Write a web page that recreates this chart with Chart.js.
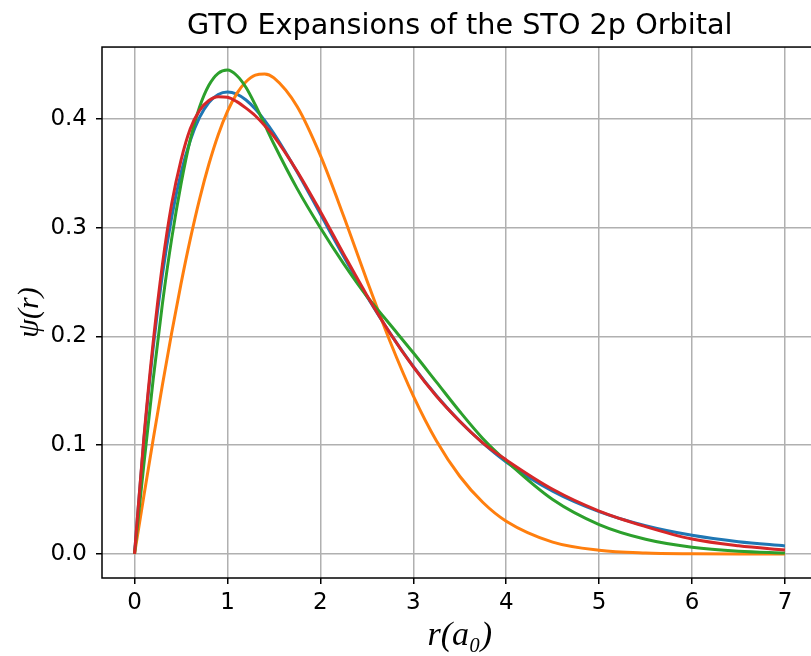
<!DOCTYPE html>
<html>
<head>
<meta charset="utf-8">
<script src="https://cdn.jsdelivr.net/npm/chart.js@4.4.1/dist/chart.umd.min.js"></script>
<style>
    html, body { margin: 0; padding: 0; width: 811px; height: 656px; overflow: hidden; background: #fff; }
    #wrap { width: 830px; height: 656px; }
</style>
</head>
<body>
<div id="wrap"><canvas id="gtoChart"></canvas></div>
<script>
// radial grid (bohr)
const R = [0, 0.1, 0.2, 0.3, 0.4, 0.5, 0.6, 0.7, 0.8, 0.9, 1.0, 1.1, 1.2, 1.3, 1.4, 1.5,
    1.75, 2.0, 2.25, 2.5, 2.75, 3.0, 3.25, 3.5, 3.75, 4.0, 4.5, 5.0, 5.5, 6.0, 6.5, 7.0];

const STO = [0, 0.1045, 0.1891, 0.2567, 0.3097, 0.3503, 0.3803, 0.4015, 0.4152, 0.4226, 0.4249,
    0.4229, 0.4175, 0.4092, 0.3987, 0.3866, 0.3513, 0.3126, 0.2739, 0.2370, 0.2031, 0.1725,
    0.1455, 0.1221, 0.1019, 0.0846, 0.0577, 0.0389, 0.0260, 0.0172, 0.0113, 0.0074];

const STO_1G = [0, 0.0530, 0.1051, 0.1555, 0.2035, 0.2484, 0.2895, 0.3264, 0.3584, 0.3854, 0.4070,
    0.4234, 0.4343, 0.4404, 0.4414, 0.4378, 0.4115, 0.3665, 0.3108, 0.2518, 0.1954, 0.1454,
    0.1039, 0.0715, 0.0473, 0.0301, 0.0109, 0.0034, 0.0009, 0.0002, 0.0000, 0.0000];

const STO_2G = [0, 0.082, 0.160, 0.230, 0.290, 0.340, 0.381, 0.411, 0.431, 0.442, 0.445,
    0.440, 0.429, 0.413, 0.395, 0.377, 0.336, 0.300, 0.267, 0.237, 0.211, 0.185,
    0.158, 0.131, 0.106, 0.0855, 0.050, 0.027, 0.0135, 0.0062, 0.0026, 0.0010];

const STO_3G = [0, 0.106, 0.194, 0.266, 0.322, 0.362, 0.391, 0.408, 0.417, 0.4205, 0.420,
    0.416, 0.410, 0.403, 0.394, 0.384, 0.352, 0.315, 0.276, 0.238, 0.203, 0.172,
    0.145, 0.122, 0.102, 0.0865, 0.0595, 0.0395, 0.0252, 0.0137, 0.0075, 0.0037];

const SERIES = [
    { label: 'STO', values: STO, color: '#1f77b4' },
    { label: 'STO-1G', values: STO_1G, color: '#ff7f0e' },
    { label: 'STO-2G', values: STO_2G, color: '#2ca02c' },
    { label: 'STO-3G', values: STO_3G, color: '#d62728' }
];

const X_MIN = -0.35, X_MAX = 7.35;
const Y_MIN = -0.0221, Y_MAX = 0.4662;

// black frame around the plot area, like matplotlib spines
const spinesPlugin = {
    id: 'spines',
    afterDraw(chart) {
        const { ctx, chartArea: a } = chart;
        ctx.save();
        ctx.strokeStyle = '#000';
        ctx.lineWidth = 1.5;
        ctx.strokeRect(a.left, a.top, a.right - a.left, a.bottom - a.top);
        ctx.restore();
    }
};

const datasets = SERIES.map((s, i) => ({
    label: s.label,
    data: R.map((r, j) => ({ x: r, y: s.values[j] })),
    borderColor: s.color,
    backgroundColor: s.color,
    borderWidth: 3,
    pointRadius: 0,
    fill: false,
    cubicInterpolationMode: 'monotone',
    order: SERIES.length - 1 - i
}));

new Chart(document.getElementById('gtoChart'), {
    type: 'line',
    data: { datasets },
    options: {
        responsive: true,
        maintainAspectRatio: false,
        animation: false,
        layout: { padding: { left: 0, right: 12.5, top: 0, bottom: 0 } },
        plugins: {
            legend: { display: false },
            tooltip: { enabled: false },
            title: {
                display: true,
                fullSize: false,
                text: 'GTO Expansions of the STO 2p Orbital',
                color: '#000',
                font: { family: 'DejaVu Sans', size: 28.7, weight: 'normal' },
                padding: { top: 9.5, bottom: 3.1 }
            }
        },
        scales: {
            x: {
                type: 'linear',
                min: X_MIN,
                max: X_MAX,
                afterFit(scale) { scale.height = 78; },
                grid: { color: '#b0b0b0', lineWidth: 1.5, tickColor: '#000', tickLength: 6 },
                border: { display: false },
                ticks: {
                    stepSize: 1,
                    includeBounds: false,
                    color: '#000',
                    padding: 5,
                    maxRotation: 0,
                    font: { family: 'DejaVu Sans', size: 23 },
                    callback: v => v.toFixed(0)
                },
                title: {
                    display: true,
                    text: 'r(a₀)',
                    color: '#000',
                    font: { family: 'Liberation Serif', size: 34, style: 'italic' },
                    padding: { top: 0, bottom: 0 }
                }
            },
            y: {
                min: Y_MIN,
                max: Y_MAX,
                afterFit(scale) { scale.width = 102; },
                grid: { color: '#b0b0b0', lineWidth: 1.5, tickColor: '#000', tickLength: 6 },
                border: { display: false },
                ticks: {
                    stepSize: 0.1,
                    includeBounds: false,
                    color: '#000',
                    padding: 9,
                    font: { family: 'DejaVu Sans', size: 23 },
                    callback: v => v.toFixed(1)
                },
                title: {
                    display: true,
                    text: 'ψ(r)',
                    color: '#000',
                    font: { family: 'Liberation Serif', size: 30, style: 'italic' },
                    padding: { top: 12, bottom: 0 }
                }
            }
        }
    },
    plugins: [spinesPlugin]
});
</script>
</body>
</html>
